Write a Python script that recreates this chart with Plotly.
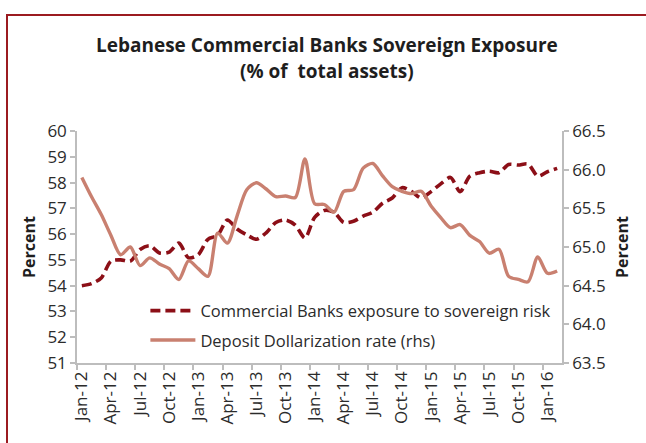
import plotly.graph_objects as go
import pandas as pd

# Monthly observations, Jan-2012 to Feb-2016
months = pd.date_range("2012-01-01", periods=50, freq="MS").strftime("%b-%y").tolist()

# Commercial banks' exposure to sovereign risk (% of total assets, left axis)
sovereign_exposure = [
    54.00, 54.08, 54.30, 54.95, 55.00, 54.95, 55.40, 55.55, 55.27, 55.30,
    55.65, 55.08, 55.20, 55.80, 55.95, 56.55, 56.20, 55.97, 55.80, 56.05,
    56.45, 56.55, 56.35, 55.85, 56.65, 56.92, 56.85, 56.45, 56.50, 56.70,
    56.85, 57.20, 57.40, 57.80, 57.65, 57.40, 57.65, 57.95, 58.20, 57.65,
    58.25, 58.38, 58.44, 58.38, 58.70, 58.68, 58.72, 58.25, 58.42, 58.55,
]

# Deposit dollarization rate (%, right axis)
dollarization = [
    65.90, 65.65, 65.42, 65.15, 64.90, 65.00, 64.76, 64.86, 64.78, 64.72,
    64.58, 64.82, 64.72, 64.62, 65.18, 65.05, 65.40, 65.74, 65.83, 65.75,
    65.65, 65.66, 65.64, 66.14, 65.56, 65.55, 65.45, 65.72, 65.74, 66.02,
    66.08, 65.92, 65.78, 65.72, 65.69, 65.72, 65.53, 65.38, 65.25, 65.29,
    65.15, 65.07, 64.92, 64.97, 64.62, 64.58, 64.55, 64.87, 64.66, 64.69,
]

x = list(range(len(months)))
label_pos = x[::3]
label_text = months[::3]
boundaries = [p - 0.5 for p in label_pos]

FONT = "Open Sans"
TEXT = "#2b2b2b"
AXIS = "#bdbdbd"
DARK_RED = "#8c0f17"
SALMON = "#c98070"

fig = go.Figure()
fig.add_trace(go.Scatter(
    x=x, y=sovereign_exposure, mode="lines", yaxis="y",
    name="Commercial Banks exposure to sovereign risk",
    legendgroup="a",
    line=dict(color=DARK_RED, width=3.6, dash="10px,5px", shape="spline", smoothing=0.8),
))
fig.add_trace(go.Scatter(
    x=x, y=dollarization, mode="lines", yaxis="y2",
    name="Deposit Dollarization rate (rhs)",
    legendgroup="b",
    line=dict(color=SALMON, width=3.4, shape="spline", smoothing=0.8),
))

fig.update_layout(
    width=646, height=443,
    margin=dict(l=77, r=84, t=131, b=80),
    paper_bgcolor="white", plot_bgcolor="white",
    font=dict(family=FONT, color=TEXT, size=16),
    showlegend=True,
    legend=dict(
        x=0.141, y=0.30, xanchor="left", yanchor="top",
        bgcolor="rgba(0,0,0,0)", borderwidth=0,
        font=dict(family=FONT, size=16.5, color=TEXT),
        traceorder="grouped", tracegroupgap=5, itemwidth=45,
    ),
    xaxis=dict(
        range=[-0.5, 49.5], showgrid=False, zeroline=False,
        showline=True, linecolor=AXIS, linewidth=1.5,
        tickmode="array", tickvals=label_pos, ticktext=label_text,
        ticks="", tickangle=-90, tickfont=dict(size=17, color=TEXT),
        minor=dict(tickmode="array", tickvals=boundaries, ticks="outside",
                   ticklen=5, tickcolor=AXIS, tickwidth=1.5, showgrid=False),
    ),
    yaxis=dict(
        range=[51, 60], dtick=1, showgrid=False, zeroline=False,
        showline=True, linecolor=AXIS, linewidth=1.5,
        ticks="outside", ticklen=5, tickcolor=AXIS, tickwidth=1.5,
        tickfont=dict(size=17, color=TEXT),
    ),
    yaxis2=dict(
        range=[63.5, 66.5], dtick=0.5, tickformat=".1f",
        overlaying="y", side="right", showgrid=False, zeroline=False,
        showline=True, linecolor=AXIS, linewidth=1.5,
        ticks="outside", ticklen=5, tickcolor=AXIS, tickwidth=1.5,
        tickfont=dict(size=17, color=TEXT),
    ),
    annotations=[
        dict(text="<b>Lebanese Commercial Banks Sovereign Exposure</b>",
             x=327, y=45, font=dict(family=FONT, size=19, color="#1e1e1e")),
        dict(text="<b>(% of  total assets)</b>",
             x=327, y=71, font=dict(family=FONT, size=19, color="#1e1e1e")),
        dict(text="<b>Percent</b>", textangle=-90,
             x=29, y=247, font=dict(family=FONT, size=16, color="#1e1e1e")),
        dict(text="<b>Percent</b>", textangle=-90,
             x=622, y=247, font=dict(family=FONT, size=16, color="#1e1e1e")),
    ],
)

# Place the free-standing texts in pixel coordinates of the page
W, H = 646, 443
L, R, T, B = 77, 84, 131, 80
pw, ph = W - L - R, H - T - B
fx = lambda px: (px - L) / pw
fy = lambda py: 1 - (py - T) / ph
for a in fig.layout.annotations:
    a.update(x=fx(a.x), y=fy(a.y), xref="paper", yref="paper",
             xanchor="center", yanchor="middle", showarrow=False)

# Dark red frame along the left and top edges
frame = dict(color="#9b1b20", width=2)
fig.add_shape(type="line", xref="paper", yref="paper",
              x0=fx(7), x1=fx(7), y0=fy(15), y1=fy(450), line=frame)
fig.add_shape(type="line", xref="paper", yref="paper",
              x0=fx(6), x1=fx(650), y0=fy(15), y1=fy(15), line=frame)

fig.write_html("out.html")
